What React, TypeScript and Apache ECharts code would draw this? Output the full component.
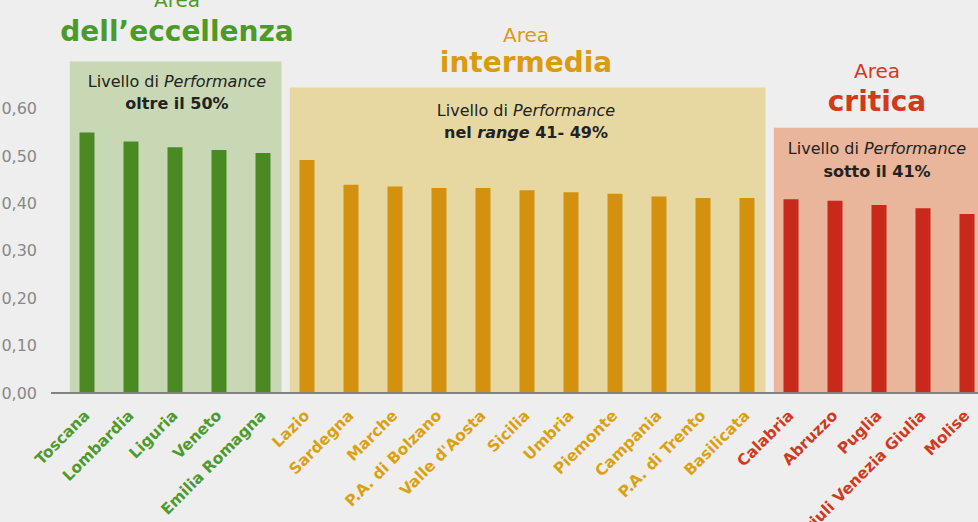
import React, { useEffect, useRef } from "react";
import * as echarts from "echarts";

const categories = [
  "Toscana", "Lombardia", "Liguria", "Veneto", "Emilia Romagna",
  "Lazio", "Sardegna", "Marche", "P.A. di Bolzano", "Valle d'Aosta",
  "Sicilia", "Umbria", "Piemonte", "Campania", "P.A. di Trento", "Basilicata",
  "Calabria", "Abruzzo", "Puglia", "Friuli Venezia Giulia", "Molise",
];
const values = [
  0.550, 0.531, 0.519, 0.513, 0.507,
  0.492, 0.440, 0.436, 0.433, 0.433, 0.428, 0.424, 0.421, 0.415, 0.412, 0.412,
  0.409, 0.406, 0.397, 0.390, 0.378,
];
// 0 = eccellenza, 1 = intermedia, 2 = critica
const groups = [0, 0, 0, 0, 0, 1, 1, 1, 1, 1, 1, 1, 1, 1, 1, 1, 2, 2, 2, 2, 2];
const yTicks = [0, 0.1, 0.2, 0.3, 0.4, 0.5, 0.6];

const areaTitles = ["dell\u2019eccellenza", "intermedia", "critica"];
const areaLine2 = ["oltre il 50%", "nel {bi|range} 41- 49%", "sotto il 41%"];

const barColors = ["#4a8a23", "#d4910f", "#c9291a"];
const boxColors = ["#c8d8b5", "#e7d8a2", "#e9b59b"];
const labelColors = ["#4e9a2c", "#dba113", "#d03a1d"];
const titleColors = ["#4c9a2a", "#db9b0f", "#d33a1b"];

const FONT = "'DejaVu Sans', Verdana, sans-serif";

export default function App() {
  const ref = useRef<HTMLDivElement>(null);
  useEffect(() => {
    document.body.style.margin = "0";
    const chart = echarts.init(ref.current!, null, { renderer: "svg" });

    const idxOf = (g: number) => groups.map((v, i) => (v === g ? i : -1)).filter((i) => i >= 0);
    const boxTops = [0.70, 0.645, 0.56];
    const areaData = [0, 1, 2].map((g) => {
      const ids = idxOf(g);
      return [
        { xAxis: ids[0] - 0.39, yAxis: 0, itemStyle: { color: boxColors[g], opacity: 1 } },
        { xAxis: Math.min(ids[ids.length - 1] + 0.42, 20.5), yAxis: boxTops[g] },
      ];
    });

    const titleBlocks = [
      { cx: 177, areaY: 0, titleY: 31, l1Y: 81, l2Y: 103 },
      { cx: 526, areaY: 35, titleY: 62, l1Y: 110, l2Y: 132 },
      { cx: 877, areaY: 71, titleY: 101, l1Y: 148, l2Y: 171 },
    ];
    const graphics: any[] = [];
    titleBlocks.forEach((b, g) => {
      graphics.push({
        type: "text", x: b.cx, y: b.areaY, z: 20,
        style: { text: "Area", fontFamily: FONT, fontSize: 20, fill: titleColors[g], align: "center", verticalAlign: "middle" },
      });
      graphics.push({
        type: "text", x: b.cx, y: b.titleY, z: 20,
        style: { text: areaTitles[g], fontFamily: FONT, fontSize: 28, fontWeight: "bold", fill: titleColors[g], align: "center", verticalAlign: "middle" },
      });
      graphics.push({
        type: "text", x: b.cx, y: b.l1Y, z: 20,
        style: {
          text: "Livello di {i|Performance}", fontFamily: FONT, fontSize: 16, fill: "#222", align: "center", verticalAlign: "middle",
          rich: { i: { fontFamily: FONT, fontSize: 16, fontStyle: "italic", fill: "#222" } },
        },
      });
      graphics.push({
        type: "text", x: b.cx, y: b.l2Y, z: 20,
        style: {
          text: areaLine2[g], fontFamily: FONT, fontSize: 16, fontWeight: "bold", fill: "#222", align: "center", verticalAlign: "middle",
          rich: { bi: { fontFamily: FONT, fontSize: 16, fontWeight: "bold", fontStyle: "italic", fill: "#222" } },
        },
      });
    });
    graphics.push({
      type: "line", z: 20,
      shape: { x1: 51, y1: 393, x2: 978, y2: 393 },
      style: { stroke: "#828282", lineWidth: 2 },
    });

    chart.setOption({
      animation: false,
      backgroundColor: "#eeeeee",
      grid: { left: 65, top: 61.5, width: 924, height: 331.5, outerBoundsMode: "none" },
      xAxis: [
        {
          type: "category",
          data: categories,
          axisLine: { show: false },
          axisTick: { show: false },
          axisLabel: {
            interval: 0,
            rotate: 45,
            margin: 20,
            fontFamily: FONT,
            fontSize: 15.5,
            fontWeight: "bold",
            color: (_v: any, i: number) => labelColors[groups[i]],
          },
        },
        { type: "value", min: -0.5, max: 20.5, show: false },
      ],
      yAxis: {
        type: "value",
        min: 0,
        max: 0.7,
        interval: 0.1,
        axisLine: { show: false },
        axisTick: { show: false },
        splitLine: { show: false },
        axisLabel: {
          margin: 28,
          fontFamily: FONT,
          fontSize: 16,
          color: "#888888",
          formatter: (v: number) => (yTicks.some((t) => Math.abs(t - v) < 1e-6) ? v.toFixed(2).replace(".", ",") : ""),
        },
      },
      series: [
        {
          type: "line",
          xAxisIndex: 1,
          data: [],
          silent: true,
          markArea: { silent: true, data: areaData, label: { show: false } },
          z: 1,
        },
        {
          type: "bar",
          xAxisIndex: 0,
          barWidth: 15,
          z: 5,
          data: values.map((v, i) => ({ value: v, itemStyle: { color: barColors[groups[i]] } })),
        },
      ],
      graphic: graphics,
    });
    return () => chart.dispose();
  }, []);
  return <div ref={ref} style={{ width: 978, height: 522 }} />;
}
